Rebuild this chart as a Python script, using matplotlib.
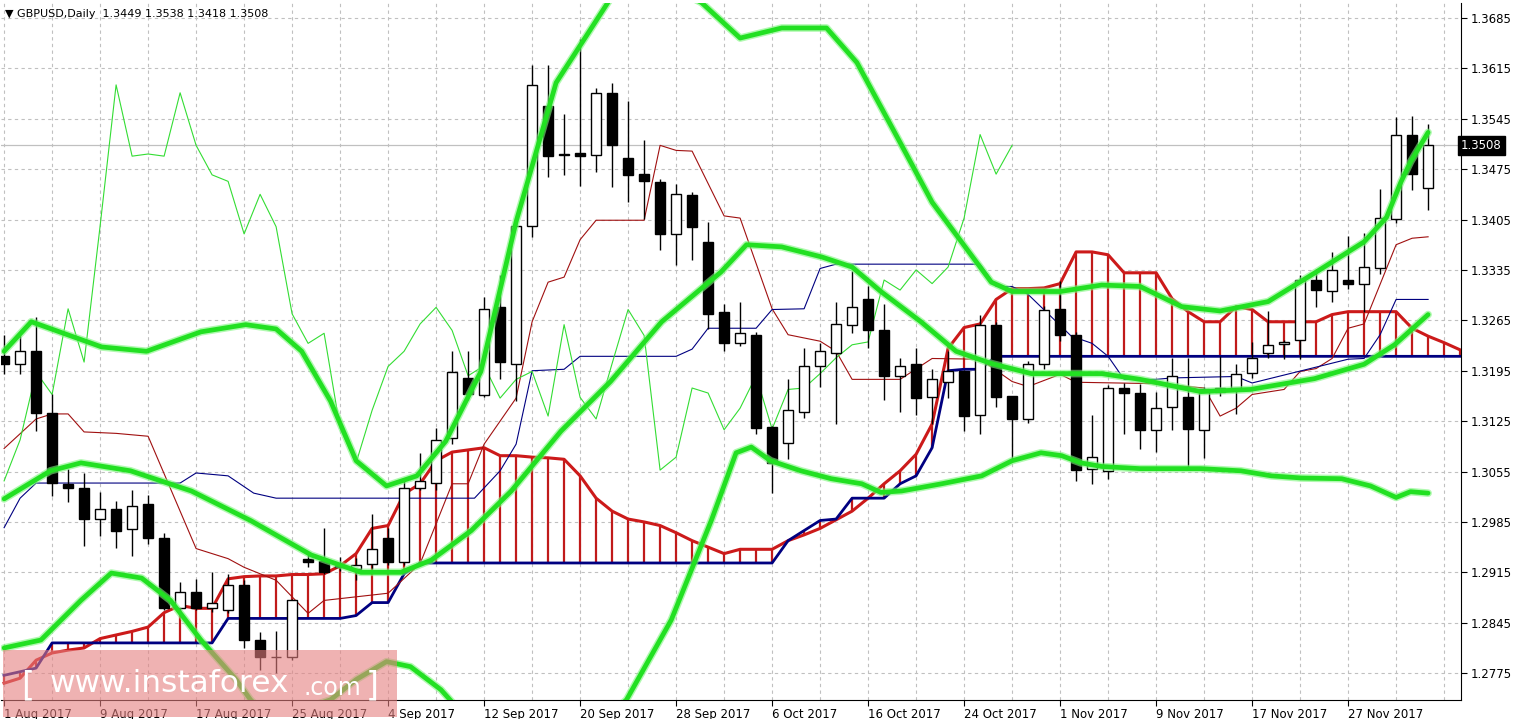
import matplotlib
matplotlib.use("Agg")
import matplotlib.pyplot as plt
from matplotlib.patches import Rectangle
import numpy as np
import pandas as pd

opens = [1.3215,1.3204,1.3222,1.3136,1.3038,1.3032,1.2989,1.3003,1.2975,1.3010,
         1.2962,1.2866,1.2888,1.2866,1.2862,1.2898,1.2821,1.2797,1.2797,1.2934,
         1.2931,1.2922,1.2920,1.2927,1.2962,1.2929,1.3032,1.3039,1.3101,1.3185,
         1.3161,1.3283,1.3205,1.3396,1.3563,1.3494,1.3498,1.3494,1.3581,1.3490,
         1.3468,1.3457,1.3385,1.3439,1.3374,1.3276,1.3233,1.3245,1.3117,1.3094,
         1.3138,1.3202,1.3220,1.3259,1.3294,1.3251,1.3188,1.3204,1.3158,1.3180,
         1.3194,1.3133,1.3259,1.3160,1.3128,1.3205,1.3281,1.3244,1.3059,1.3056,
         1.3171,1.3164,1.3113,1.3144,1.3159,1.3113,1.3166,1.3171,1.3192,1.3219,
         1.3232,1.3237,1.3321,1.3306,1.3321,1.3316,1.3337,1.3406,1.3523,1.3449]
highs = [1.3245,1.3245,1.3270,1.3162,1.3058,1.3053,1.3027,1.3014,1.3030,1.3023,
         1.2969,1.2901,1.2906,1.2915,1.2913,1.2905,1.2832,1.2834,1.2878,1.2942,
         1.2977,1.2936,1.2935,1.2996,1.2977,1.3042,1.3081,1.3115,1.3223,1.3222,
         1.3298,1.3328,1.3406,1.3619,1.3619,1.3552,1.3656,1.3587,1.3595,1.3570,
         1.3515,1.3461,1.3455,1.3443,1.3402,1.3287,1.3291,1.3249,1.3118,1.3183,
         1.3226,1.3233,1.3291,1.3334,1.3312,1.3287,1.3212,1.3227,1.3198,1.3222,
         1.3196,1.3273,1.3262,1.3160,1.3208,1.3285,1.3320,1.3249,1.3133,1.3175,
         1.3178,1.3177,1.3165,1.3212,1.3212,1.3173,1.3215,1.3205,1.3235,1.3278,
         1.3237,1.3328,1.3336,1.3360,1.3382,1.3386,1.3447,1.3548,1.3549,1.3538]
lows = [1.3190,1.3191,1.3111,1.3021,1.3012,1.2952,1.2966,1.2949,1.2937,1.2955,
        1.2863,1.2860,1.2862,1.2860,1.2858,1.2810,1.2779,1.2775,1.2793,1.2922,
        1.2913,1.2917,1.2905,1.2920,1.2925,1.2925,1.3030,1.3030,1.3093,1.3155,
        1.3158,1.3183,1.3153,1.3381,1.3464,1.3467,1.3451,1.3471,1.3450,1.3429,
        1.3406,1.3363,1.3342,1.3349,1.3253,1.3222,1.3230,1.3107,1.3025,1.3072,
        1.3129,1.3173,1.3121,1.3247,1.3226,1.3154,1.3137,1.3133,1.3121,1.3157,
        1.3111,1.3107,1.3144,1.3070,1.3122,1.3197,1.3236,1.3042,1.3038,1.3045,
        1.3107,1.3086,1.3082,1.3113,1.3060,1.3074,1.3160,1.3135,1.3185,1.3213,
        1.3211,1.3211,1.3284,1.3291,1.3309,1.3277,1.3330,1.3400,1.3446,1.3418]
closes = [1.3204,1.3222,1.3136,1.3039,1.3032,1.2989,1.3003,1.2973,1.3007,1.2963,
          1.2866,1.2888,1.2866,1.2873,1.2898,1.2821,1.2797,1.2798,1.2877,1.2929,
          1.2916,1.2924,1.2925,1.2948,1.2930,1.3032,1.3042,1.3099,1.3193,1.3162,
          1.3281,1.3207,1.3396,1.3592,1.3493,1.3496,1.3493,1.3581,1.3508,1.3467,
          1.3458,1.3385,1.3440,1.3395,1.3274,1.3233,1.3247,1.3115,1.3067,1.3140,
          1.3201,1.3222,1.3260,1.3283,1.3251,1.3188,1.3202,1.3157,1.3183,1.3194,
          1.3132,1.3259,1.3158,1.3128,1.3205,1.3280,1.3244,1.3057,1.3075,1.3171,
          1.3164,1.3113,1.3143,1.3188,1.3114,1.3169,1.3171,1.3191,1.3213,1.3231,
          1.3235,1.3321,1.3307,1.3335,1.3316,1.3339,1.3407,1.3523,1.3468,1.3508]

senkou_a = [1.2761,1.2768,1.2793,1.2803,1.2807,1.2810,1.2823,1.2828,1.2833,1.2839,
            1.2859,1.2869,1.2865,1.2865,1.2906,1.2909,1.2910,1.2910,1.2912,1.2912,
            1.2913,1.2924,1.2941,1.2976,1.2980,1.3024,1.3038,1.3070,1.3082,1.3085,
            1.3088,1.3077,1.3077,1.3075,1.3074,1.3072,1.3049,1.3018,1.3000,1.2989,
            1.2985,1.2980,1.2970,1.2959,1.2950,1.2941,1.2947,1.2947,1.2947,1.2959,
            1.2967,1.2976,1.2988,1.3000,1.3018,1.3038,1.3056,1.3079,1.3121,1.3226,
            1.3255,1.3260,1.3294,1.3309,1.3309,1.3310,1.3316,1.3360,1.3360,1.3356,
            1.3331,1.3331,1.3331,1.3295,1.3277,1.3263,1.3263,1.3284,1.3280,1.3263,
            1.3263,1.3263,1.3263,1.3273,1.3277,1.3277,1.3277,1.3277,1.3254,1.3243,
            1.3234,1.3224]
senkou_b = ([1.2772,1.2777,1.2782] + [1.2817]*11 + [1.2851]*8 + [1.2855] + [1.2873]*2 +
            [1.2913] + [1.2928]*23 + [1.2959,1.2973,1.2987,1.2989,1.3018,1.3018,1.3018,
            1.3038,1.3049,1.3088,1.3195,1.3197,1.3197] + [1.3215]*30)

tenkan_x = [0,2,3,4,5,7,9,12,14,15,17,19,20,24,26,28,29,30,32,33,34,35,36,37,40,41,42,43,45,46,
            48,49,51,52,53,56,58,61,63,64,66,67,72,75,76,77,78,80,81,82,83,84,85,87,88,89]
tenkan_y = [1.3087,1.3128,1.3135,1.3135,1.3110,1.3108,1.3104,1.2948,1.2934,1.2922,1.2904,1.2858,
            1.2876,1.2886,1.2927,1.3038,1.3038,1.3093,1.3157,1.3263,1.3318,1.3325,1.3377,1.3404,
            1.3404,1.3508,1.3501,1.3500,1.3410,1.3407,1.3281,1.3245,1.3236,1.3222,1.3183,1.3183,
            1.3212,1.3211,1.3180,1.3173,1.3190,1.3179,1.3177,1.3171,1.3132,1.3143,1.3162,1.3169,
            1.3194,1.3198,1.3212,1.3254,1.3260,1.3370,1.3379,1.3381]
kijun_x = [0,1,2,11,12,14,15.6,17,29.4,31,32,33,35,36,42,43,44,47,48,50,51,52,61,62,63,64,
           66.7,68,69,70,72,73,77,78,84,85,86,87,89]
kijun_y = [1.2977,1.3018,1.3039,1.3039,1.3053,1.3049,1.3025,1.3018,1.3018,1.3056,1.3093,1.3195,
           1.3197,1.3215,1.3215,1.3225,1.3254,1.3254,1.3280,1.3281,1.3337,1.3343,1.3343,1.3312,
           1.3312,1.3301,1.3243,1.3233,1.3215,1.3183,1.3183,1.3185,1.3187,1.3178,1.3211,1.3212,
           1.3245,1.3294,1.3294]

bb_up_x = [0,1.7,6.1,8.9,12.3,15.1,17,18.6,20.4,22,23.9,25.8,27.6,29.8,32,34.5,37.9,40,42,43.6,
           46,48.6,51.4,53.3,56,58,61.7,63,66,68.6,71,73.6,76,79,82,85,86.4,87.3,87.9,89]
bb_up_y = [1.3222,1.3263,1.3228,1.3222,1.3249,1.3259,1.3253,1.3222,1.3153,1.3070,1.3035,1.3049,
           1.3097,1.3194,1.3402,1.3595,1.3712,1.3735,1.3725,1.3706,1.3657,1.3671,1.3671,1.3623,
           1.3512,1.3429,1.3318,1.3305,1.3305,1.3314,1.3312,1.3284,1.3278,1.3291,1.3332,1.3374,
           1.3408,1.3457,1.3485,1.3526]
bb_mid_x = [0,2.9,4.8,7.9,11.7,15.4,19.2,22.3,24.8,26.7,29.2,31.7,34.8,37.9,41.1,44.8,46.4,48.6,
            51.1,53,54.8,57.3,59.5,61.7,64.2,68.6,71,74.8,77.9,81.9,85,86.9,89]
bb_mid_y = [1.3017,1.3056,1.3067,1.3056,1.3028,1.2987,1.2939,1.2915,1.2915,1.2932,1.2973,1.3028,
            1.3111,1.3180,1.3263,1.3332,1.3370,1.3367,1.3353,1.3339,1.3305,1.3263,1.3222,1.3205,
            1.3191,1.3191,1.3183,1.3166,1.3169,1.3184,1.3204,1.3231,1.3273]
bb_lo_x = [0,2.3,4.8,6.7,8.6,10.4,12.3,14.5,15.4,16.7,20.4,22,23.9,25.4,27.3,28.6,32,36,38.9,
           41.7,44.2,45.75,46.7,47.9,49.8,51.7,53.6,54.8,56.1,58.6,61.1,63,64.8,66.1,67.3,68.6,
           71,74.8,77.3,79.2,81.1,83.6,85.4,87,87.9,89]
bb_lo_y = [1.2810,1.2821,1.2876,1.2914,1.2907,1.2876,1.2821,1.2766,1.2738,1.2710,1.2738,1.2766,
           1.2791,1.2784,1.2752,1.2720,1.2650,1.2680,1.2738,1.2849,1.2987,1.3081,1.3089,1.3070,
           1.3056,1.3045,1.3038,1.3026,1.3028,1.3038,1.3049,1.3070,1.3081,1.3077,1.3067,1.3062,
           1.3059,1.3059,1.3056,1.3049,1.3046,1.3045,1.3035,1.3019,1.3027,1.3025]

yticks = [1.2775,1.2845,1.2915,1.2985,1.3055,1.3125,1.3195,1.3265,1.3335,1.3405,1.3475,1.3545,1.3615,1.3685]
dates = pd.bdate_range("2017-08-01", periods=len(closes))
label_idx = list(range(0, len(closes), 6))
date_labels = [f"{dates[i].day} {dates[i]:%b %Y}" for i in label_idx]
last_price = closes[-1]

fig = plt.figure(figsize=(15.19, 7.19), dpi=100)
ax = fig.add_axes([0.0007, 19/719, 1460/1519, 697/719])
ax.set_xlim(-0.19, 91.06)
ax.set_ylim(1.27377, 1.37057)

for yt in yticks:
    ax.axhline(yt, color="#c0c0c0", lw=0.8, ls=(0, (3, 3)), zorder=0)
for xi in range(0, 92, 3):
    ax.axvline(xi, color="#c0c0c0", lw=0.8, ls=(0, (3, 3)), zorder=0)
ax.axhline(last_price, color="#c0c0c0", lw=0.9, zorder=0.5)

n = len(senkou_a)
cx = np.arange(n)
ax.vlines(cx, senkou_a, senkou_b, color="#c01a1a", lw=1.6, zorder=1)
ax.plot(cx, senkou_a, color="#cc1a1a", lw=2.2, zorder=1.5)
ax.plot(cx, senkou_b, color="#000080", lw=2.0, zorder=1.5)

ax.plot(tenkan_x, tenkan_y, color="#a01010", lw=0.8, zorder=2)
ax.plot(kijun_x, kijun_y, color="#000080", lw=0.8, zorder=2)
chik = closes[26:]
ax.plot(np.arange(len(chik)), chik, color="#33dd33", lw=0.8, zorder=2)

for i in range(len(closes)):
    o, h, l, c = opens[i], highs[i], lows[i], closes[i]
    ax.vlines(i, l, h, color="black", lw=1.0, zorder=3)
    bottom = min(o, c)
    height = max(abs(c - o), 0.00008)
    face = "white" if c >= o else "black"
    ax.add_patch(Rectangle((i - 0.31, bottom), 0.62, height, facecolor=face,
                           edgecolor="black", lw=1.0, zorder=3.5))

for xs, ys in [(bb_up_x, bb_up_y), (bb_mid_x, bb_mid_y), (bb_lo_x, bb_lo_y)]:
    ax.plot(xs, ys, color="#7cf57c", lw=5.5, alpha=0.6, zorder=4, solid_capstyle="round")
    ax.plot(xs, ys, color="#22e022", lw=3.4, zorder=4.1, solid_capstyle="round")

ax.yaxis.tick_right()
ax.set_yticks(yticks)
ax.set_yticklabels([f"{v:.4f}" for v in yticks], fontsize=8.5)
ax.set_xticks(label_idx)
ax.set_xticklabels(date_labels, fontsize=8.5, ha="left")
ax.tick_params(axis="x", length=4, pad=2)
ax.tick_params(axis="y", length=4, pad=3)
for s in ["left", "top"]:
    ax.spines[s].set_visible(False)

ax.text(1.0, last_price, f"{last_price:.4f}", transform=ax.get_yaxis_transform(),
        ha="left", va="center", fontsize=8.5, color="white", zorder=10,
        bbox=dict(boxstyle="square,pad=0.25", fc="black", ec="black"), clip_on=False)

fig.text(5/1519, 1 - 14/719, f"\u25BC GBPUSD,Daily  {opens[-1]:.4f} {highs[-1]:.4f} {lows[-1]:.4f} {closes[-1]:.4f}",
         fontsize=8, va="center", ha="left", color="black")

fig.patches.append(Rectangle((3/1519, 2/719), 394/1519, 67/719, transform=fig.transFigure,
                             facecolor="#e58080", alpha=0.6, edgecolor="none", zorder=20))
fig.text(28/1519, 1 - 686/719, "[", fontsize=24, color="white", ha="center", va="center", zorder=21)
fig.text(50/1519, 1 - 684/719, "www.instaforex", fontsize=22.5, color="white", ha="left", va="center", zorder=21)
fig.text(303/1519, 1 - 688/719, ".com", fontsize=17, color="white", ha="left", va="center", zorder=21)
fig.text(372/1519, 1 - 686/719, "]", fontsize=24, color="white", ha="center", va="center", zorder=21)

fig.savefig("out.png", dpi=100)
